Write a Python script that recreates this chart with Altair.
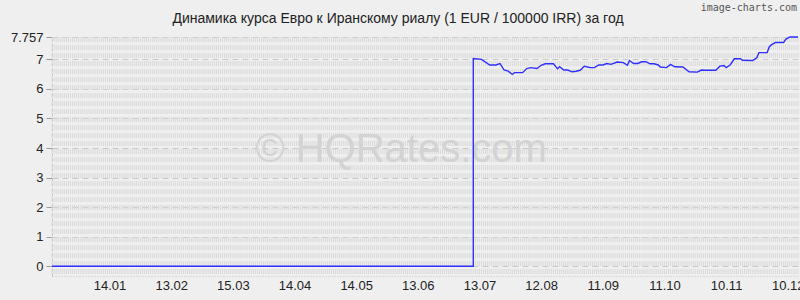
import altair as alt
import pandas as pd

# ---- data ----
dates = [
    "2024-12-17", "2025-07-10", "2025-07-10", "2025-07-14", "2025-07-18", "2025-07-21",
    "2025-07-23", "2025-07-25", "2025-07-27", "2025-07-29", "2025-07-30", "2025-08-03",
    "2025-08-05", "2025-08-07", "2025-08-10", "2025-08-12", "2025-08-14", "2025-08-18",
    "2025-08-20", "2025-08-21", "2025-08-23", "2025-08-25", "2025-08-27", "2025-08-29",
    "2025-08-31", "2025-09-02", "2025-09-03", "2025-09-05", "2025-09-07", "2025-09-09",
    "2025-09-11", "2025-09-13", "2025-09-15", "2025-09-18", "2025-09-21", "2025-09-23",
    "2025-09-24", "2025-09-26", "2025-09-28", "2025-09-30", "2025-10-02", "2025-10-04",
    "2025-10-06", "2025-10-08", "2025-10-09", "2025-10-12", "2025-10-14", "2025-10-16",
    "2025-10-20", "2025-10-23", "2025-10-27", "2025-10-29", "2025-10-31", "2025-11-05",
    "2025-11-07", "2025-11-09", "2025-11-10", "2025-11-12", "2025-11-14", "2025-11-17",
    "2025-11-18", "2025-11-23", "2025-11-25", "2025-11-26", "2025-11-30", "2025-12-01",
    "2025-12-02", "2025-12-04", "2025-12-08", "2025-12-09", "2025-12-11", "2025-12-15",
]
values = [
    0.0, 0.0, 7.03, 7.00, 6.81, 6.81,
    6.86, 6.64, 6.60, 6.49, 6.55, 6.55,
    6.69, 6.72, 6.69, 6.80, 6.85, 6.85,
    6.68, 6.75, 6.64, 6.64, 6.58, 6.60,
    6.63, 6.77, 6.75, 6.72, 6.72, 6.81,
    6.81, 6.86, 6.83, 6.91, 6.89, 6.80,
    6.96, 6.86, 6.86, 6.92, 6.92, 6.85,
    6.85, 6.81, 6.74, 6.72, 6.83, 6.75,
    6.74, 6.58, 6.57, 6.64, 6.63, 6.63,
    6.77, 6.79, 6.72, 6.81, 7.02, 7.02,
    6.97, 6.96, 7.06, 7.23, 7.23, 7.42,
    7.49, 7.57, 7.57, 7.68, 7.757, 7.757,
]
x_label_dates = [
    "2025-01-14", "2025-02-13", "2025-03-15", "2025-04-14", "2025-05-14", "2025-06-13",
    "2025-07-13", "2025-08-12", "2025-09-11", "2025-10-11", "2025-11-10", "2025-12-10",
]
y_tick_values = [0, 1, 2, 3, 4, 5, 6, 7, 7.757]
x_start, x_end = "2024-12-17", "2025-12-15"
y_min, y_max = -0.33, 7.757

title_text = "Динамика курса Евро к Иранскому риалу (1 EUR / 100000 IRR) за год"
watermark = "© HQRates.com"
credit = "image-charts.com"

W, H = 746, 239
FONT = "Liberation Sans"


def dt(s):
    y, m, d = (int(p) for p in s.split("-"))
    return alt.DateTime(year=y, month=m, date=d)


df = pd.DataFrame({
    "date": [d + "T00:00:00" for d in dates],
    "value": values,
    "idx": list(range(len(dates))),
})
grid_days = pd.DataFrame({
    "date": [d.strftime("%Y-%m-%dT00:00:00") for d in pd.date_range(x_start, x_end, freq="D")]
})

x_scale = alt.Scale(domain=[dt(x_start), dt(x_end)], nice=False)
y_scale = alt.Scale(domain=[y_min, y_max], nice=False, zero=False)

x_axis = alt.Axis(
    values=[dt(s) for s in x_label_dates], format="%d.%m", grid=False,
    ticks=False, labelFont=FONT, labelFontSize=13, labelColor="#222",
    labelPadding=3, domainColor="#c4c4c4", domainDash=[1, 2],
    labelFlush=False, labelOverlap=False,
)
y_axis = alt.Axis(
    values=y_tick_values, labelExpr="datum.value", grid=True,
    gridColor="#c8c8c8", gridDash=[6, 4], tickColor="#9a9a9a",
    tickSize=6, labelFont=FONT, labelFontSize=13, labelColor="#222",
    labelPadding=3, domainColor="#c4c4c4", domainDash=[3, 2],
    labelOverlap=False, labelFlush=False,
)

vgrid = alt.Chart(grid_days).mark_rule(
    color="#d9d9d9", strokeWidth=1, strokeDash=[5, 3]
).encode(
    x=alt.X("date:T", scale=x_scale, axis=x_axis, title=None),
    y=alt.value(0),
    y2=alt.value(H),
)

line = alt.Chart(df).mark_line(color="#2f2fff", strokeWidth=1.4).encode(
    x=alt.X("date:T", scale=x_scale, axis=x_axis, title=None),
    y=alt.Y("value:Q", scale=y_scale, axis=y_axis, title=None),
    order="idx:Q",
)

wm = alt.Chart(pd.DataFrame({"t": [watermark]})).mark_text(
    font=FONT, fontSize=40, color="#d3d3d3", align="center", baseline="middle"
).encode(text="t:N", x=alt.value(349), y=alt.value(113))

cr = alt.Chart(pd.DataFrame({"t": [credit]})).mark_text(
    font="DejaVu Sans Mono", fontSize=10, color="#555", align="right", baseline="middle"
).encode(text="t:N", x=alt.value(745), y=alt.value(-29))

ttl = alt.Chart(pd.DataFrame({"t": [title_text]})).mark_text(
    font=FONT, fontSize=14, color="#222", align="center", baseline="middle"
).encode(text="t:N", x=alt.value(346), y=alt.value(-18))

chart = alt.layer(vgrid, wm, line, cr, ttl).properties(
    width=W, height=H,
    autosize=alt.AutoSizeParams(type="none"),
    padding={"left": 52, "top": 37, "right": 2, "bottom": 24},
).configure(background="#efefef").configure_view(stroke=None, fill="#efefef")

chart.save("out.html", embed_options={"renderer": "svg", "actions": False})
